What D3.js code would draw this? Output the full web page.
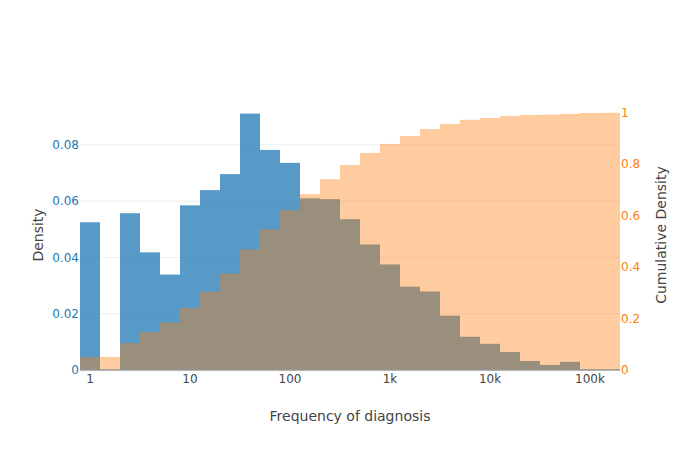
<!DOCTYPE html>
<html>
<head>
<meta charset="utf-8">
<script src="https://cdn.jsdelivr.net/npm/d3@7"></script>
<style>
  body { margin: 0; background: #fff; }
  svg { font-family: "DejaVu Sans", verdana, arial, sans-serif; }
</style>
</head>
<body>
<svg width="700" height="450"></svg>
<script>
// histogram bins in log10 space (start, size), 27 bins
var binStart = -0.1;
var binSize = 0.2;

// probability per bin
var density = [0.0525, 0, 0.0557, 0.0418, 0.0339, 0.0585, 0.0639, 0.0696, 0.0911,
               0.0782, 0.0736, 0.0610, 0.0607, 0.0536, 0.0446, 0.0375, 0.0296, 0.0279,
               0.0193, 0.0118, 0.0093, 0.0064, 0.0032, 0.0018, 0.0029, 0.0002, 0.0001];

// cumulative probability per bin
var cumulative = [0.051, 0.051, 0.105, 0.148, 0.185, 0.242, 0.305, 0.375, 0.469,
                  0.547, 0.622, 0.684, 0.742, 0.797, 0.844, 0.879, 0.910, 0.937,
                  0.957, 0.973, 0.980, 0.988, 0.992, 0.993, 0.996, 0.9997, 1.0];

var xTicks = [1, 10, 100, 1000, 10000, 100000];
var xTickLabels = ["1", "10", "100", "1k", "10k", "100k"];
var yLeftTicks = [0, 0.02, 0.04, 0.06, 0.08];
var yRightTicks = [0, 0.2, 0.4, 0.6, 0.8, 1];

var nBins = density.length;
var bins = density.map(function(d, i) {
  return {
    x0: Math.pow(10, binStart + i * binSize),
    x1: Math.pow(10, binStart + (i + 1) * binSize),
    density: d,
    cumulative: cumulative[i]
  };
});

var plotLeft = 80, plotRight = 620, plotTop = 100, plotBottom = 370;

var x = d3.scaleLog()
    .domain([Math.pow(10, binStart), Math.pow(10, binStart + nBins * binSize)])
    .range([plotLeft, plotRight]);

var yL = d3.scaleLinear()
    .domain([0, d3.max(density) * 1.053])
    .range([plotBottom, plotTop]);

var yR = d3.scaleLinear()
    .domain([0, 1.05])
    .range([plotBottom, plotTop]);

var svg = d3.select("svg");

// grid
svg.append("g").selectAll("line")
    .data(yLeftTicks.slice(1))
  .enter().append("line")
    .attr("x1", plotLeft)
    .attr("x2", plotRight)
    .attr("y1", function(d) { return yL(d); })
    .attr("y2", function(d) { return yL(d); })
    .style("stroke", "#eee")
    .style("stroke-width", 1);

// density bars
svg.append("g").selectAll("rect")
    .data(bins)
  .enter().append("rect")
    .attr("x", function(d) { return x(d.x0); })
    .attr("width", function(d) { return x(d.x1) - x(d.x0); })
    .attr("y", function(d) { return yL(d.density); })
    .attr("height", function(d) { return plotBottom - yL(d.density); })
    .style("fill", "#1f77b4")
    .style("opacity", 0.75);

// cumulative bars
svg.append("g").selectAll("rect")
    .data(bins)
  .enter().append("rect")
    .attr("x", function(d) { return x(d.x0); })
    .attr("width", function(d) { return x(d.x1) - x(d.x0); })
    .attr("y", function(d) { return yR(d.cumulative); })
    .attr("height", function(d) { return plotBottom - yR(d.cumulative); })
    .style("fill", "#ff7f0e")
    .style("opacity", 0.4);

// zero line
svg.append("line")
    .attr("x1", plotLeft)
    .attr("x2", plotRight)
    .attr("y1", yL(0))
    .attr("y2", yL(0))
    .style("stroke", "#999")
    .style("stroke-width", 1.5);

// x ticks
svg.append("g").selectAll("text")
    .data(xTicks)
  .enter().append("text")
    .attr("x", function(d) { return x(d); })
    .attr("y", 383)
    .attr("text-anchor", "middle")
    .style("font-size", "12px")
    .style("fill", "#444")
    .text(function(d, i) { return xTickLabels[i]; });

// left ticks
svg.append("g").selectAll("text")
    .data(yLeftTicks)
  .enter().append("text")
    .attr("x", 79)
    .attr("y", function(d) { return yL(d); })
    .attr("dy", ".35em")
    .attr("text-anchor", "end")
    .style("font-size", "12px")
    .style("fill", "#1f77b4")
    .text(function(d) { return d === 0 ? "0" : d3.format(".2f")(d); });

// right ticks
svg.append("g").selectAll("text")
    .data(yRightTicks)
  .enter().append("text")
    .attr("x", 621)
    .attr("y", function(d) { return yR(d); })
    .attr("dy", ".35em")
    .attr("text-anchor", "start")
    .style("font-size", "12px")
    .style("fill", "#ff7f0e")
    .text(function(d) { return d3.format("")(d); });

// axis titles
svg.append("text")
    .attr("x", (plotLeft + plotRight) / 2)
    .attr("y", 421)
    .attr("text-anchor", "middle")
    .style("font-size", "14px")
    .style("fill", "#444")
    .text("Frequency of diagnosis");

svg.append("text")
    .attr("transform", "translate(43," + (plotTop + plotBottom) / 2 + ") rotate(-90)")
    .attr("text-anchor", "middle")
    .style("font-size", "14px")
    .style("fill", "#444")
    .text("Density");

svg.append("text")
    .attr("transform", "translate(666," + (plotTop + plotBottom) / 2 + ") rotate(-90)")
    .attr("text-anchor", "middle")
    .style("font-size", "14px")
    .style("fill", "#444")
    .text("Cumulative Density");
</script>
</body>
</html>
